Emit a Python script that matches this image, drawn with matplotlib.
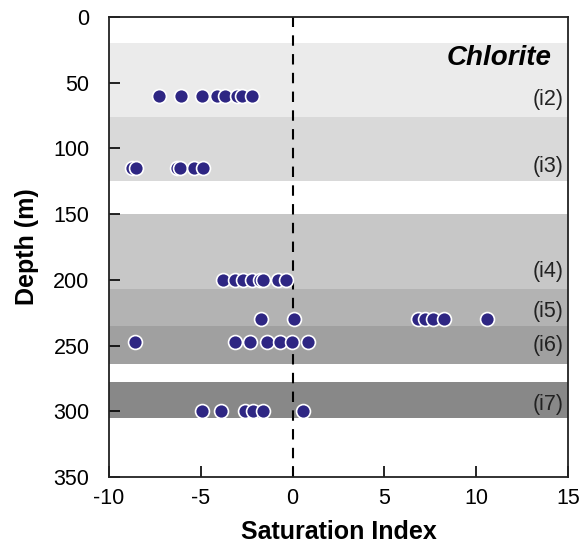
import matplotlib
matplotlib.use("Agg")
import matplotlib.pyplot as plt

plt.rcParams['font.family'] = ['Liberation Sans', 'DejaVu Sans']
plt.rcParams['axes.unicode_minus'] = False

# Interval bands (depth ranges in m) and labels
band_labels = ["(i2)", "(i3)", "(i4)", "(i5)", "(i6)", "(i7)"]
band_top = [20, 76, 150, 207, 235, 278]
band_bottom = [76, 125, 207, 235, 264, 305]
band_colors = ["#ebebeb", "#d9d9d9", "#c7c7c7", "#b3b3b3", "#a0a0a0", "#888888"]
label_depth = [63, 114, 194, 224, 250, 295]

# Saturation index values per interval
si_i2 = [-7.25, -6.07, -4.91, -4.13, -3.68, -3.04, -2.77, -2.19]
si_i3 = [-8.76, -8.52, -6.31, -6.13, -5.35, -4.86]
si_i4 = [-3.77, -3.13, -2.68, -2.22, -1.77, -1.59, -0.77, -0.37]
si_i5 = [-1.70, 0.10, 6.85, 7.22, 7.67, 8.25, 10.58]
si_i6 = [-8.58, -3.13, -2.31, -1.37, -0.68, -0.04, 0.83]
si_i7 = [-4.95, -3.89, -2.59, -2.14, -1.59, 0.56]
depths = [60, 115, 200, 230, 247, 300]

x_ticks = [-10, -5, 0, 5, 10, 15]
y_ticks = [0, 50, 100, 150, 200, 250, 300, 350]

fig = plt.figure(figsize=(5.85, 5.47), dpi=100)
ax = fig.add_axes([0.1863, 0.128, 0.7847, 0.841])

for top, bot, c in zip(band_top, band_bottom, band_colors):
    ax.axhspan(top, bot, color=c, lw=0, zorder=0)

ax.axvline(0, color='black', lw=1.5, linestyle=(0, (5, 4)), zorder=1)

for vals, d in zip([si_i2, si_i3, si_i4, si_i5, si_i6, si_i7], depths):
    ax.plot(vals, [d] * len(vals), 'o', color='#2e2683', markersize=10,
            markeredgecolor='white', markeredgewidth=1.2, zorder=3)

for lab, d in zip(band_labels, label_depth):
    ax.text(0.99, d, lab, transform=ax.get_yaxis_transform(), ha='right',
            va='center', fontsize=15.5, color='#222222')

ax.text(0.963, 31, "Chlorite", transform=ax.get_yaxis_transform(), ha='right',
        va='center', fontsize=20, fontweight='bold', fontstyle='italic')

ax.set_xlim(-10, 15)
ax.set_ylim(350, 0)
ax.set_xticks(x_ticks)
ax.set_yticks(y_ticks)
ax.tick_params(direction='in', length=8, width=1.2, labelsize=15.5)
ax.tick_params(axis='y', pad=14)
ax.tick_params(axis='x', pad=8)
for s in ax.spines.values():
    s.set_linewidth(1.3)
    s.set_color('#222222')

ax.set_xlabel("Saturation Index", fontsize=18, fontweight='bold', labelpad=8)
ax.set_ylabel("Depth (m)", fontsize=18, fontweight='bold', labelpad=10)

fig.savefig("out.png", dpi=100)
